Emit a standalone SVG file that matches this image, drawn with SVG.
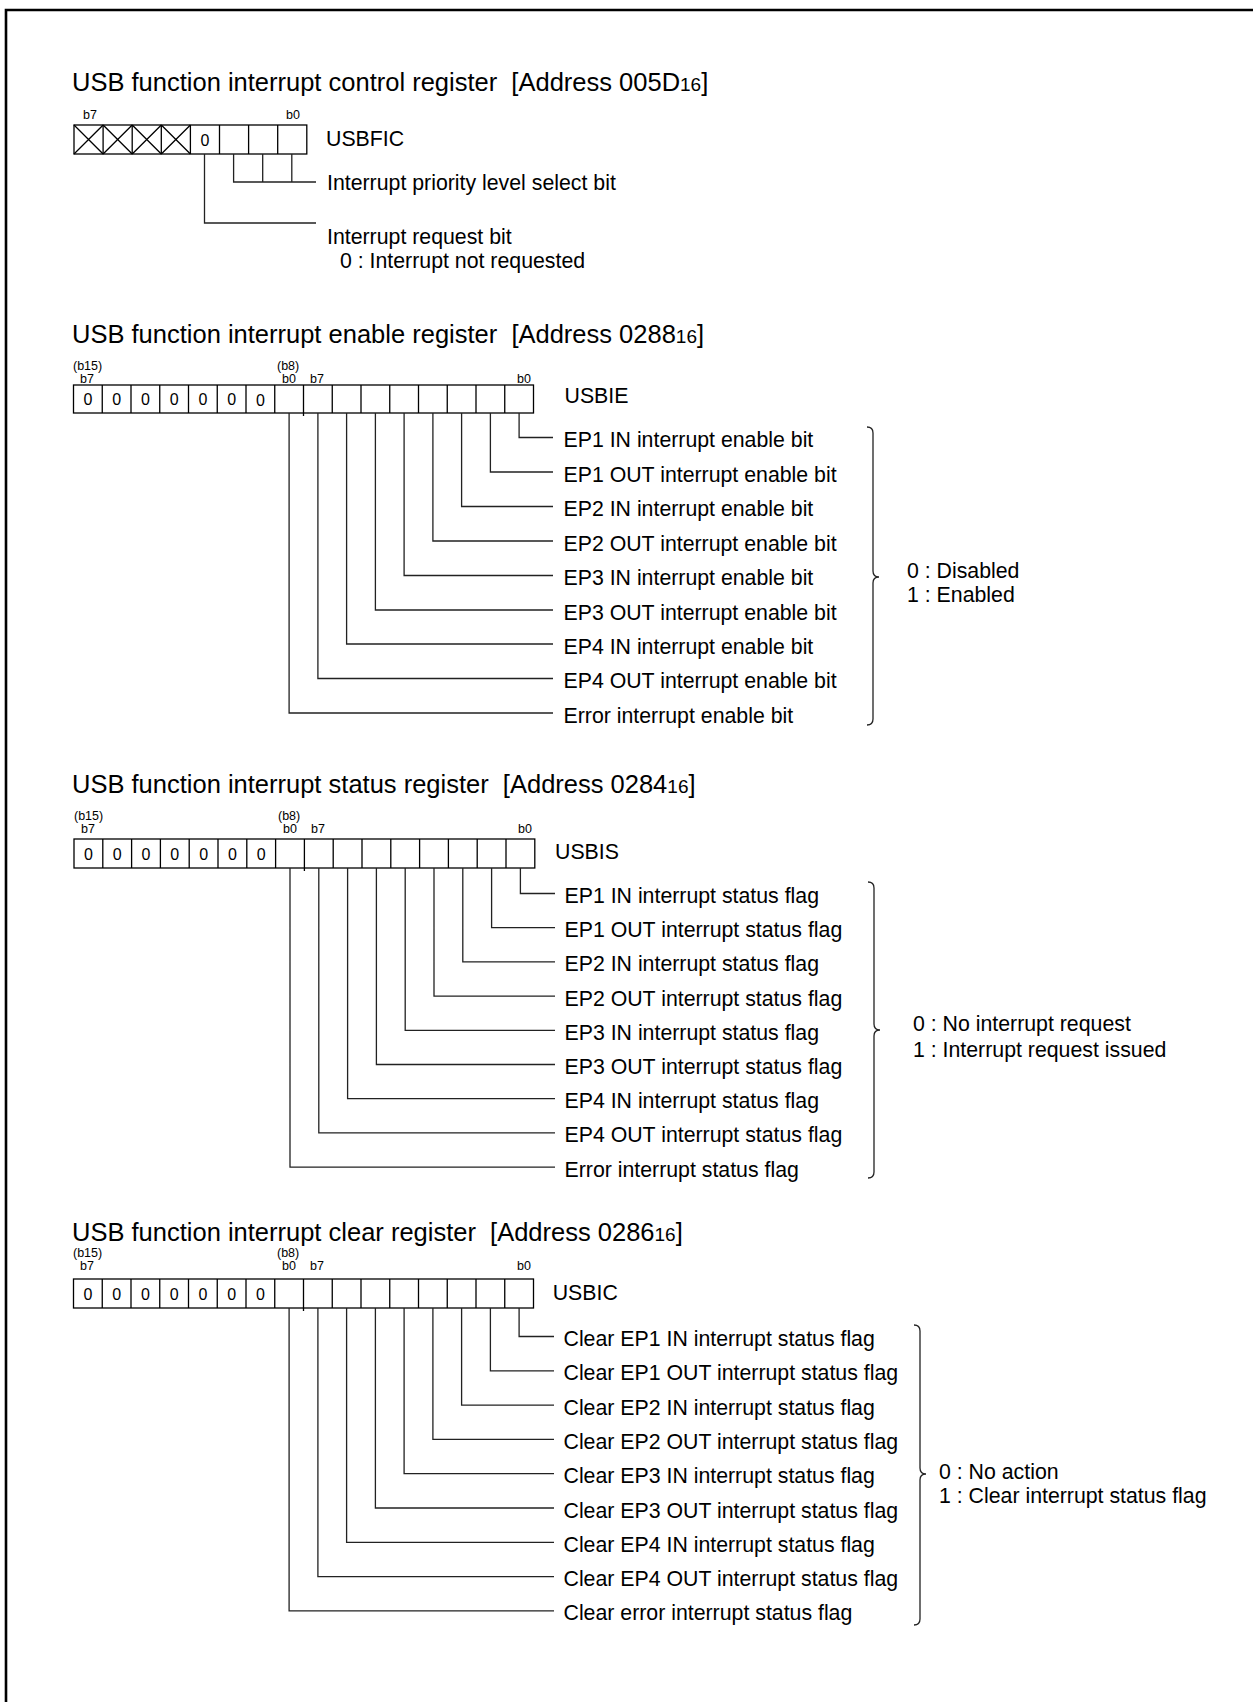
<svg xmlns="http://www.w3.org/2000/svg" width="1253" height="1702" viewBox="0 0 1253 1702">
<style>
text{font-family:"Liberation Sans",Arial,Helvetica,sans-serif;fill:#000}
.t{font-size:25.5px}
.l{font-size:21.3px}
.s{font-size:12.5px}
.z{font-size:16px;text-anchor:middle}
.sub{font-size:19px}
.box{fill:none;stroke:#000;stroke-width:1.3}
.c{fill:none;stroke:#222;stroke-width:1.3}
.br{fill:none;stroke:#222;stroke-width:1.3}
</style>
<rect width="1253" height="1702" fill="#fff"/>
<path d="M6,1702 V10 H1253" fill="none" stroke="#000" stroke-width="2.6"/>

<!-- Section 1 -->
<g id="reg-usbfic">
<text class="t" x="72" y="91" xml:space="preserve">USB function interrupt control register  [Address 005D<tspan class="sub">16</tspan>]</text>
<text class="s" x="83" y="119">b7</text>
<text class="s" x="286" y="119">b0</text>
<rect class="box" x="74" y="125" width="232.8" height="29"/>
<path class="box" d="M103.1,125V154M132.2,125V154M161.3,125V154M190.4,125V154M219.5,125V154M248.6,125V154M277.7,125V154"/>
<path class="box" d="M74,125L103.1,154M103.1,125L74,154M103.1,125L132.2,154M132.2,125L103.1,154M132.2,125L161.3,154M161.3,125L132.2,154M161.3,125L190.4,154M190.4,125L161.3,154"/>
<text class="z" x="205" y="145.5">0</text>
<text class="l" x="326" y="145.5">USBFIC</text>
<text class="l" x="327" y="190">Interrupt priority level select bit</text>
<text class="l" x="327" y="243.5">Interrupt request bit</text>
<text class="l" x="340" y="267.5">0 : Interrupt not requested</text>
</g>

<!-- Section 2 -->
<g id="reg-usbie">
<text class="t" x="72" y="343" xml:space="preserve">USB function interrupt enable register  [Address 0288<tspan class="sub">16</tspan>]</text>
<text class="s" x="73" y="370">(b15)</text>
<text class="s" x="80" y="383">b7</text>
<text class="s" x="277" y="370">(b8)</text>
<text class="s" x="282" y="383">b0</text>
<text class="s" x="310" y="383">b7</text>
<text class="s" x="517" y="383">b0</text>
<rect class="box" x="73.5" y="385" width="460" height="28"/>
<path class="box" d="M102.25,385V413M131,385V413M159.75,385V413M188.5,385V413M217.25,385V413M246,385V413M274.75,385V413M303.5,385V416M332.25,385V413M361,385V413M389.75,385V413M418.5,385V413M447.25,385V413M476,385V413M504.75,385V413"/>
<text class="z" x="87.9" y="405">0</text><text class="z" x="116.6" y="405">0</text><text class="z" x="145.4" y="405">0</text><text class="z" x="174.1" y="405">0</text><text class="z" x="202.9" y="405">0</text><text class="z" x="231.6" y="405">0</text><text class="z" x="260.4" y="406">0</text>
<text class="l" x="564.5" y="402.5">USBIE</text>
<text class="l" x="563.5" y="447">EP1 IN interrupt enable bit</text>
<text class="l" x="563.5" y="481.5">EP1 OUT interrupt enable bit</text>
<text class="l" x="563.5" y="516">EP2 IN interrupt enable bit</text>
<text class="l" x="563.5" y="550.5">EP2 OUT interrupt enable bit</text>
<text class="l" x="563.5" y="585">EP3 IN interrupt enable bit</text>
<text class="l" x="563.5" y="619.5">EP3 OUT interrupt enable bit</text>
<text class="l" x="563.5" y="653.5">EP4 IN interrupt enable bit</text>
<text class="l" x="563.5" y="688">EP4 OUT interrupt enable bit</text>
<text class="l" x="563.5" y="722.5">Error interrupt enable bit</text>
<path class="br" d="M867,427 Q873,427 873,433 V571 Q873,577 879,577 Q873,577 873,583 V719 Q873,725 867,725"/>
<text class="l" x="907" y="577.5">0 : Disabled</text>
<text class="l" x="907" y="601.5">1 : Enabled</text>
</g>

<!-- Section 3 -->
<g id="reg-usbis">
<text class="t" x="72" y="793" xml:space="preserve">USB function interrupt status register  [Address 0284<tspan class="sub">16</tspan>]</text>
<text class="s" x="74" y="820">(b15)</text>
<text class="s" x="81" y="833">b7</text>
<text class="s" x="278" y="820">(b8)</text>
<text class="s" x="283" y="833">b0</text>
<text class="s" x="311" y="833">b7</text>
<text class="s" x="518" y="833">b0</text>
<rect class="box" x="74" y="839" width="460.8" height="29"/>
<path class="box" d="M102.8,839V868M131.6,839V868M160.4,839V868M189.2,839V868M218,839V868M246.8,839V868M275.6,839V868M304.4,839V871M333.2,839V868M362,839V868M390.8,839V868M419.6,839V868M448.4,839V868M477.2,839V868M506,839V868"/>
<text class="z" x="88.4" y="859.5">0</text><text class="z" x="117.2" y="859.5">0</text><text class="z" x="146" y="859.5">0</text><text class="z" x="174.8" y="859.5">0</text><text class="z" x="203.6" y="859.5">0</text><text class="z" x="232.4" y="859.5">0</text><text class="z" x="261.2" y="859.5">0</text>
<text class="l" x="555" y="858.5">USBIS</text>
<text class="l" x="564.5" y="903">EP1 IN interrupt status flag</text>
<text class="l" x="564.5" y="937.2">EP1 OUT interrupt status flag</text>
<text class="l" x="564.5" y="971.4">EP2 IN interrupt status flag</text>
<text class="l" x="564.5" y="1005.6">EP2 OUT interrupt status flag</text>
<text class="l" x="564.5" y="1039.8">EP3 IN interrupt status flag</text>
<text class="l" x="564.5" y="1074">EP3 OUT interrupt status flag</text>
<text class="l" x="564.5" y="1108.2">EP4 IN interrupt status flag</text>
<text class="l" x="564.5" y="1142.4">EP4 OUT interrupt status flag</text>
<text class="l" x="564.5" y="1176.6">Error interrupt status flag</text>
<path class="br" d="M868,882 Q874,882 874,888 V1024 Q874,1030 880,1030 Q874,1030 874,1036 V1172 Q874,1178 868,1178"/>
<text class="l" x="913" y="1030.5">0 : No interrupt request</text>
<text class="l" x="913" y="1056.5">1 : Interrupt request issued</text>
</g>

<!-- Section 4 -->
<g id="reg-usbic">
<text class="t" x="72" y="1241" xml:space="preserve">USB function interrupt clear register  [Address 0286<tspan class="sub">16</tspan>]</text>
<text class="s" x="73" y="1256.5">(b15)</text>
<text class="s" x="80" y="1270">b7</text>
<text class="s" x="277" y="1256.5">(b8)</text>
<text class="s" x="282" y="1270">b0</text>
<text class="s" x="310" y="1270">b7</text>
<text class="s" x="517" y="1270">b0</text>
<rect class="box" x="73.5" y="1279" width="460" height="29"/>
<path class="box" d="M102.25,1279V1308M131,1279V1308M159.75,1279V1308M188.5,1279V1308M217.25,1279V1308M246,1279V1308M274.75,1279V1308M303.5,1279V1311M332.25,1279V1308M361,1279V1308M389.75,1279V1308M418.5,1279V1308M447.25,1279V1308M476,1279V1308M504.75,1279V1308"/>
<text class="z" x="87.9" y="1299.5">0</text><text class="z" x="116.6" y="1299.5">0</text><text class="z" x="145.4" y="1299.5">0</text><text class="z" x="174.1" y="1299.5">0</text><text class="z" x="202.9" y="1299.5">0</text><text class="z" x="231.6" y="1299.5">0</text><text class="z" x="260.4" y="1299.5">0</text>
<text class="l" x="552.7" y="1299.5">USBIC</text>
<text class="l" x="563.5" y="1346">Clear EP1 IN interrupt status flag</text>
<text class="l" x="563.5" y="1380.3">Clear EP1 OUT interrupt status flag</text>
<text class="l" x="563.5" y="1414.6">Clear EP2 IN interrupt status flag</text>
<text class="l" x="563.5" y="1448.9">Clear EP2 OUT interrupt status flag</text>
<text class="l" x="563.5" y="1483.2">Clear EP3 IN interrupt status flag</text>
<text class="l" x="563.5" y="1517.5">Clear EP3 OUT interrupt status flag</text>
<text class="l" x="563.5" y="1551.8">Clear EP4 IN interrupt status flag</text>
<text class="l" x="563.5" y="1586.1">Clear EP4 OUT interrupt status flag</text>
<text class="l" x="563.5" y="1620.4">Clear error interrupt status flag</text>
<path class="br" d="M914,1325 Q920,1325 920,1331 V1468 Q920,1474 926,1474 Q920,1474 920,1480 V1619 Q920,1625 914,1625"/>
<text class="l" x="939" y="1479">0 : No action</text>
<text class="l" x="939" y="1502.5">1 : Clear interrupt status flag</text>
</g>

<!-- Connectors -->
<g id="connectors">
<path class="c" d="M233.6,154V182H316M262.7,154V182M291.8,154V182"/>
<path class="c" d="M204.5,154V223H316"/>
<path class="c" d="M519.1,413V437.5H553M490.4,413V472H553M461.6,413V506.5H553M432.9,413V541H553M404.1,413V575.5H553M375.4,413V610H553M346.6,413V644H553M317.9,413V678.5H553M289.1,413V713H553"/>
<path class="c" d="M520.4,868V893.5H555M491.6,868V927.7H555M462.8,868V961.9H555M434,868V996.1H555M405.2,868V1030.3H555M376.4,868V1064.5H555M347.6,868V1098.7H555M318.8,868V1132.9H555M290,868V1167.1H555"/>
<path class="c" d="M519.1,1308V1336.5H554M490.4,1308V1370.8H554M461.6,1308V1405.1H554M432.9,1308V1439.4H554M404.1,1308V1473.7H554M375.4,1308V1508H554M346.6,1308V1542.3H554M317.9,1308V1576.6H554M289.1,1308V1610.9H554"/>
</g>
</svg>
